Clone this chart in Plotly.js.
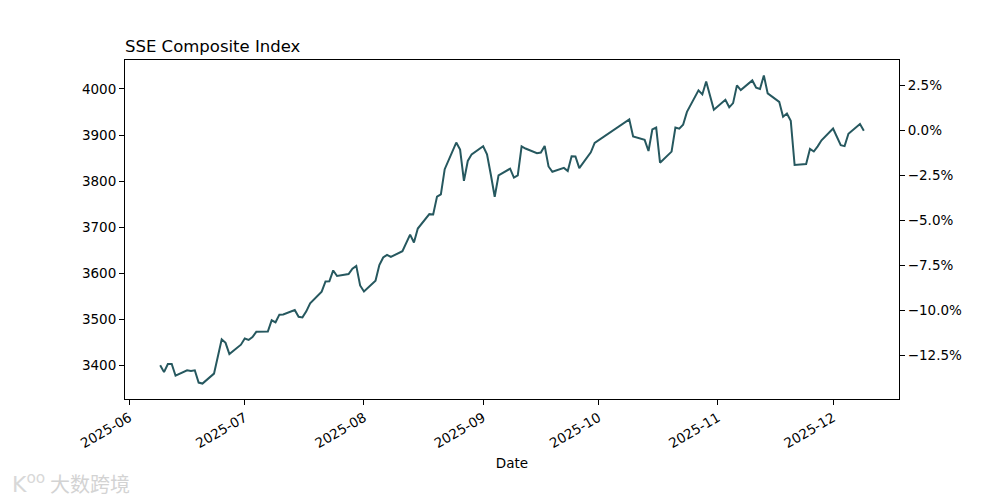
<!DOCTYPE html>
<html>
<head>
<meta charset="utf-8">
<script src="https://cdn.plot.ly/plotly-3.0.1.min.js"></script>
<style>html,body{margin:0;padding:0;background:#fff;}#chart{width:1000px;height:500px;}</style>
</head>
<body>
<div id="chart"></div>
<script>
// Trading dates (2025) and SSE Composite closes
const dates = [
 '2025-06-09','2025-06-10','2025-06-11','2025-06-12','2025-06-13','2025-06-16','2025-06-17','2025-06-18','2025-06-19','2025-06-20',
 '2025-06-23','2025-06-24','2025-06-25','2025-06-26','2025-06-27','2025-06-30',
 '2025-07-01','2025-07-02','2025-07-03','2025-07-04','2025-07-07','2025-07-08','2025-07-09','2025-07-10','2025-07-11',
 '2025-07-14','2025-07-15','2025-07-16','2025-07-17','2025-07-18','2025-07-21','2025-07-22','2025-07-23','2025-07-24','2025-07-25',
 '2025-07-28','2025-07-29','2025-07-30','2025-07-31',
 '2025-08-01','2025-08-04','2025-08-05','2025-08-06','2025-08-07','2025-08-08','2025-08-11','2025-08-12','2025-08-13','2025-08-14','2025-08-15',
 '2025-08-18','2025-08-19','2025-08-20','2025-08-21','2025-08-22','2025-08-25','2025-08-26','2025-08-27','2025-08-28','2025-08-29',
 '2025-09-01','2025-09-02','2025-09-03','2025-09-04','2025-09-05','2025-09-08','2025-09-09','2025-09-10','2025-09-11','2025-09-12',
 '2025-09-15','2025-09-16','2025-09-17','2025-09-18','2025-09-19','2025-09-22','2025-09-23','2025-09-24','2025-09-25','2025-09-26',
 '2025-09-29','2025-09-30',
 '2025-10-09','2025-10-10','2025-10-13','2025-10-14','2025-10-15','2025-10-16','2025-10-17','2025-10-20','2025-10-21','2025-10-22',
 '2025-10-23','2025-10-24','2025-10-27','2025-10-28','2025-10-29','2025-10-30','2025-10-31',
 '2025-11-03','2025-11-04','2025-11-05','2025-11-06','2025-11-07','2025-11-10','2025-11-11','2025-11-12','2025-11-13','2025-11-14',
 '2025-11-17','2025-11-18','2025-11-19','2025-11-20','2025-11-21','2025-11-24','2025-11-25','2025-11-26','2025-11-27','2025-11-28',
 '2025-12-01','2025-12-02','2025-12-03','2025-12-04','2025-12-05','2025-12-08','2025-12-09'
];
const closes = [
 3399.77,3384.82,3402.32,3402.66,3377.00,3388.73,3387.40,3388.81,3362.11,3359.90,
 3381.58,3420.57,3455.97,3448.45,3424.23,3444.43,
 3457.75,3454.79,3461.15,3472.32,3473.13,3497.48,3493.05,3509.68,3510.18,
 3519.65,3505.00,3503.78,3516.83,3534.48,3559.79,3581.86,3582.30,3605.73,3593.66,
 3597.94,3609.71,3615.72,3573.21,
 3559.95,3583.31,3617.60,3633.99,3639.67,3635.13,3647.55,3665.92,3683.46,3666.44,3696.77,
 3728.03,3727.29,3766.21,3771.10,3825.76,3883.56,3868.38,3800.35,3843.60,3857.93,
 3875.53,3858.13,3813.56,3765.88,3812.51,3826.84,3807.29,3812.22,3875.31,3870.60,
 3860.50,3861.87,3876.34,3831.66,3820.09,3828.58,3821.83,3853.64,3853.30,3828.11,
 3862.53,3882.78,
 3933.97,3897.03,3889.50,3865.23,3912.21,3916.23,3839.76,3863.89,3916.33,3913.76,
 3922.41,3950.31,3996.94,3988.22,4016.33,3986.90,3954.79,
 3976.52,3960.19,3969.25,4007.76,3997.56,4018.60,4002.76,4000.14,4029.50,3990.49,
 3972.03,3939.81,3946.74,3931.05,3834.89,3836.77,3870.02,3864.18,3875.26,3888.60,
 3914.01,3897.71,3878.00,3875.79,3902.81,3924.08,3909.52
];
const monthTicks = ['2025-06-01','2025-07-01','2025-08-01','2025-09-01','2025-10-01','2025-11-01','2025-12-01'];
const monthLabels = ['2025-06','2025-07','2025-08','2025-09','2025-10','2025-11','2025-12'];
const leftTicks = [3400,3500,3600,3700,3800,3900,4000];
const pctTicks = [-12.5,-10,-7.5,-5,-2.5,0,2.5];
const pctLabels = pctTicks.map(v => (v < 0 ? '\u2212' : '') + Math.abs(v).toFixed(1) + '%');

// Axis ranges with 5% margins (like matplotlib defaults)
const ymin = Math.min(...closes), ymax = Math.max(...closes);
const pad = (ymax - ymin) * 0.05;
const yr = [ymin - pad, ymax + pad];
const last = closes[closes.length - 1];
const pr = yr.map(v => (v / last - 1) * 100);
const t0 = new Date(dates[0] + 'T00:00:00Z').getTime();
const t1 = new Date(dates[dates.length - 1] + 'T00:00:00Z').getTime();
const xpad = (t1 - t0) * 0.05;
const fmt = t => new Date(t).toISOString().slice(0, 19).replace('T', ' ');
const xr = [fmt(t0 - xpad), fmt(t1 + xpad)];
const pct = closes.map(v => (v / last - 1) * 100);

const FONT = 'DejaVu Sans, sans-serif';
const traces = [
  {x: dates, y: closes, type: 'scatter', mode: 'lines',
   line: {color: '#26585f', width: 2}, hoverinfo: 'x+y', showlegend: false},
  {x: dates, y: pct, type: 'scatter', mode: 'lines', yaxis: 'y2',
   line: {color: 'rgba(0,0,0,0)', width: 0}, hoverinfo: 'skip', showlegend: false}
];
const layout = {
  width: 1000, height: 500,
  margin: {l: 125, r: 101, t: 60, b: 101, pad: 0},
  paper_bgcolor: '#fff', plot_bgcolor: '#fff',
  font: {family: FONT, size: 13.5, color: '#000'},
  title: {text: 'SSE Composite Index', x: 125/1000, xanchor: 'left', xref: 'container',
          y: 1 - 46/500, yanchor: 'middle', yref: 'container',
          font: {family: FONT, size: 16.5, color: '#000'}},
  xaxis: {type: 'date', range: xr, tickvals: monthTicks, ticktext: monthLabels,
          tickangle: -30, ticks: 'outside', ticklen: 5, tickwidth: 1, tickcolor: '#000',
          showline: true, linecolor: '#000', linewidth: 1, mirror: true, showgrid: false, zeroline: false,
          title: {text: 'Date', font: {family: FONT, size: 13.5}, standoff: 8},
          tickfont: {family: FONT, size: 13.5}},
  yaxis: {range: yr, tickvals: leftTicks, tickformat: 'd', ticks: 'outside', ticklen: 5, tickwidth: 1,
          tickcolor: '#000', showline: true, linecolor: '#000', linewidth: 1, mirror: true,
          showgrid: false, zeroline: false, tickfont: {family: FONT, size: 13.5}},
  yaxis2: {range: pr, overlaying: 'y', side: 'right', tickvals: pctTicks, ticktext: pctLabels,
           ticks: 'outside', ticklen: 5, tickwidth: 1, tickcolor: '#000', showline: true, linecolor: '#000',
           linewidth: 1, showgrid: false, zeroline: false, tickfont: {family: FONT, size: 13.5}},
  annotations: [
    {text: 'K<sup>oo</sup>', xref: 'paper', yref: 'paper', x: -115/774, y: -84/339, xanchor: 'left', yanchor: 'middle',
     showarrow: false, font: {family: FONT, size: 22, color: '#d8d8d8'}},
    {text: '大数跨境', xref: 'paper', yref: 'paper', x: -77/774, y: -84/339, xanchor: 'left', yanchor: 'middle',
     showarrow: false, font: {family: 'Noto Sans CJK SC', size: 20, color: '#d3d3d3'}}
  ]
};
Plotly.newPlot('chart', traces, layout, {displayModeBar: false, staticPlot: true});
</script>
</body>
</html>
